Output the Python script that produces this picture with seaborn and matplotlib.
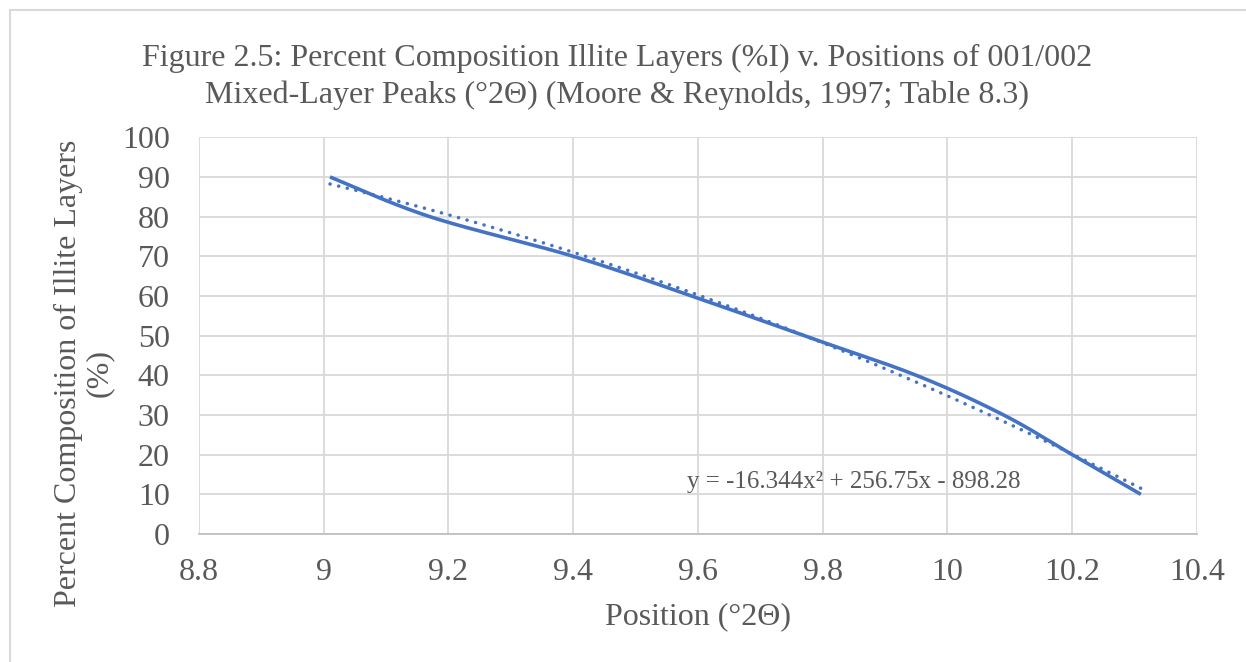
import numpy as np
import matplotlib
matplotlib.use("Agg")
import matplotlib.pyplot as plt
import seaborn as sns

# Mixed-layer illite/smectite: 001/002 peak position vs. percent illite layers
position = [9.01, 9.17, 9.40, 9.59, 9.77, 9.95, 10.09, 10.20, 10.31]
percent_illite = [90, 80, 70, 60, 50, 40, 30, 20, 10]

# Second-order polynomial trendline coefficients (a, b, c for ax^2 + bx + c)
trend_coef = [-16.344, 256.75, -898.28]

x_ticks = [8.8, 9.0, 9.2, 9.4, 9.6, 9.8, 10.0, 10.2, 10.4]
x_tick_labels = ["8.8", "9", "9.2", "9.4", "9.6", "9.8", "10", "10.2", "10.4"]
y_ticks = [0, 10, 20, 30, 40, 50, 60, 70, 80, 90, 100]

BLUE = "#4472C4"
TEXT = "#595959"
GRID = "#D9D9D9"
FS = 23


def smooth_curve(xs, ys, n=40):
    """Bezier smoothing through every point (Catmull-Rom style control points)."""
    p = np.column_stack([xs, ys]).astype(float)
    ext = np.vstack([p[0], p, p[-1]])
    t = np.linspace(0, 1, n)[:, None]
    segs = []
    for i in range(1, len(ext) - 2):
        p0, p3 = ext[i], ext[i + 1]
        c1 = p0 + (ext[i + 1] - ext[i - 1]) / 6.0
        c2 = p3 - (ext[i + 2] - ext[i]) / 6.0
        seg = ((1 - t) ** 3) * p0 + 3 * ((1 - t) ** 2) * t * c1 \
            + 3 * (1 - t) * t ** 2 * c2 + t ** 3 * p3
        segs.append(seg if i == 1 else seg[1:])
    curve = np.vstack(segs)
    return curve[:, 0], curve[:, 1]


sns.set_theme(style="white")
plt.rcParams["font.family"] = ["Liberation Serif", "DejaVu Serif"]

fig = plt.figure(figsize=(12.46, 6.62), dpi=100)
ax = fig.add_axes([199 / 1246, 1 - 534 / 662, (1197 - 199) / 1246, (534 - 137.3) / 662])

sx, sy = smooth_curve(position, percent_illite)
sns.lineplot(x=sx, y=sy, sort=False, estimator=None, ax=ax,
             color=BLUE, linewidth=2.6, solid_capstyle="butt")

tx = np.linspace(min(position), max(position), 200)
ty = np.polyval(trend_coef, tx)
sns.lineplot(x=tx, y=ty, sort=False, estimator=None, ax=ax,
             color=BLUE, linewidth=2.5, linestyle=(0, (0.05, 2.5)),
             dash_capstyle="round")

ax.set_xlim(8.8, 10.4)
ax.set_ylim(0, 100)
ax.set_xticks(x_ticks)
ax.set_xticklabels(x_tick_labels)
ax.set_yticks(y_ticks)
ax.grid(True, color=GRID, linewidth=1.3)
ax.set_axisbelow(True)
for side in ["top", "right", "left"]:
    ax.spines[side].set_visible(False)
ax.spines["bottom"].set_color("#BFBFBF")
ax.spines["bottom"].set_linewidth(1.3)
ax.tick_params(axis="both", length=0, labelsize=FS, labelcolor=TEXT)
ax.tick_params(axis="y", pad=21)
ax.tick_params(axis="x", pad=17)

eq = "y = {:.3f}x\u00b2 + {:.2f}x - {:.2f}".format(trend_coef[0], trend_coef[1], -trend_coef[2])
ax.text(9.583, 13.1, eq, fontsize=18, color=TEXT, ha="left", va="center")

fig.text(617 / 1246, 1 - 77 / 662,
         "Figure 2.5: Percent Composition Illite Layers (%I) v. Positions of 001/002\n"
         "Mixed-Layer Peaks (\u00b02\u0398) (Moore & Reynolds, 1997; Table 8.3)",
         ha="center", va="center", fontsize=FS, color=TEXT, linespacing=1.32)

fig.text(698 / 1246, 1 - 617 / 662, "Position (\u00b02\u0398)",
         ha="center", va="center", fontsize=FS, color=TEXT)
fig.text(84 / 1246, 1 - 373 / 662, "Percent Composition of Illite Layers\n(%)",
         ha="center", va="center", rotation=90, fontsize=FS, color=TEXT,
         linespacing=1.05, multialignment="center")

# chart-area frame
fig.add_artist(plt.Line2D([9.5 / 1246, 1], [1 - 10 / 662, 1 - 10 / 662],
                          transform=fig.transFigure, color=GRID, linewidth=1.5))
fig.add_artist(plt.Line2D([9.5 / 1246, 9.5 / 1246], [0, 1 - 10 / 662],
                          transform=fig.transFigure, color=GRID, linewidth=1.5))

fig.savefig("out.png", dpi=100, facecolor="white")
